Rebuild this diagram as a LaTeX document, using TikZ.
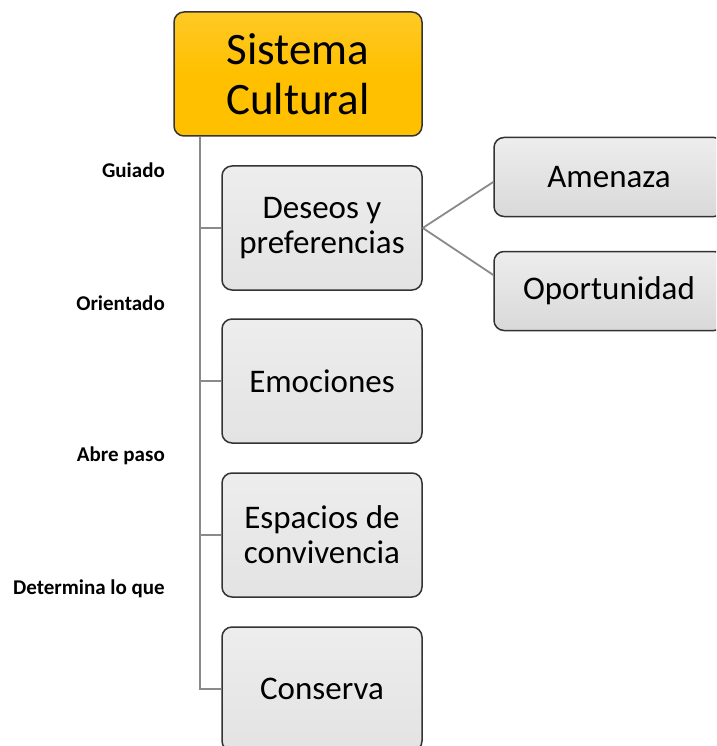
\documentclass[tikz,border=0pt]{standalone}
\usepackage{fontspec}
\setmainfont{Carlito}
\definecolor{orangebox}{HTML}{FFC000}
\definecolor{boxline}{HTML}{333333}
\definecolor{connline}{HTML}{8A8A8A}
\tikzset{
  topbox/.style={draw=boxline, line width=1.5pt, rounded corners=10pt, top color=orangebox!85!white, bottom color=orangebox, middle color=orangebox,
    minimum width=248pt, minimum height=124pt, align=center, inner sep=0pt,
    font=\fontsize{45}{50}\selectfont},
  graybox/.style={draw=boxline, line width=1.5pt, rounded corners=10pt, top color=gray!14, bottom color=gray!22,
    minimum width=200pt, minimum height=124pt, align=center, inner sep=0pt,
    font=\fontsize{33}{35}\selectfont},
  sidebox/.style={graybox, minimum width=230pt, minimum height=79pt, bottom color=gray!30},
  conn/.style={draw=connline, line width=1.8pt},
  lbl/.style={anchor=east, inner sep=0pt, font=\fontsize{21}{23}\bfseries\selectfont}
}
\begin{document}
\begin{tikzpicture}[x=1pt,y=-1pt]
\useasboundingbox (0,0) rectangle (716,746);
\clip (0,0) rectangle (716,746);
\fill[white] (0,0) rectangle (716,746);
\node[topbox] (top) at (298,74) {Sistema\\Cultural};
\node[graybox] (deseos) at (322,228) {Deseos y\\preferencias};
\node[graybox] (emoc) at (322,381) {Emociones};
\node[graybox] (espac) at (322,535) {Espacios de\\convivencia};
\node[graybox] (cons) at (322,689) {Conserva};
\node[sidebox] (amen) at (609,177) {Amenaza};
\node[sidebox] (oport) at (609,291) {Oportunidad};
\draw[conn] ([xshift=27pt]top.south west) |- (deseos.west);
\draw[conn] ([xshift=27pt]top.south west) |- (emoc.west);
\draw[conn] ([xshift=27pt]top.south west) |- (espac.west);
\draw[conn] ([xshift=27pt]top.south west) |- (cons.west);
\draw[conn] (deseos.east) -- ([yshift=-5pt]amen.west);
\draw[conn] (deseos.east) -- ([yshift=16pt]oport.west);
\node[lbl] (l1) at (165,170) {Guiado};
\node[lbl] (l2) at (165,303) {Orientado};
\node[lbl] (l3) at (165,456) {Abre paso};
\node[lbl] (l4) at (165,589) {Determina lo que};
\end{tikzpicture}
\end{document}
